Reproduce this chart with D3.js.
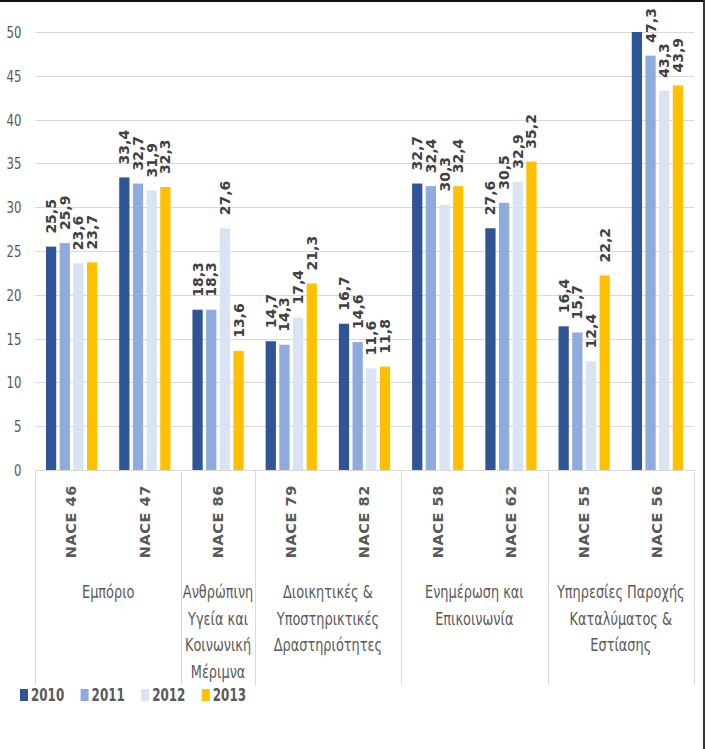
<!DOCTYPE html>
<html>
<head>
<meta charset="utf-8">
<script src="https://cdn.jsdelivr.net/npm/d3@7/dist/d3.min.js"></script>
<style>
  html, body { margin: 0; padding: 0; background: #fff; }
  svg { display: block; }
  .narrow { font-family: "DejaVu Sans Condensed", "DejaVu Sans", sans-serif; }
</style>
</head>
<body>
<svg id="chart" width="705" height="749"></svg>
<script>
const categories = ["NACE 46", "NACE 47", "NACE 86", "NACE 79", "NACE 82", "NACE 58", "NACE 62", "NACE 55", "NACE 56"];
const seriesNames = ["2010", "2011", "2012", "2013"];
const values2010 = [25.5, 33.4, 18.3, 14.7, 16.7, 32.7, 27.6, 16.4, 50];
const values2011 = [25.9, 32.7, 18.3, 14.3, 14.6, 32.4, 30.5, 15.7, 47.3];
const values2012 = [23.6, 31.9, 27.6, 17.4, 11.6, 30.3, 32.9, 12.4, 43.3];
const values2013 = [23.7, 32.3, 13.6, 21.3, 11.8, 32.4, 35.2, 22.2, 43.9];
const groupLabels = [
  ["Εμπόριο"],
  ["Ανθρώπινη", "Υγεία και", "Κοινωνική", "Μέριμνα"],
  ["Διοικητικές &", "Υποστηρικτικές", "Δραστηριότητες"],
  ["Ενημέρωση και", "Επικοινωνία"],
  ["Υπηρεσίες Παροχής", "Καταλύματος &", "Εστίασης"]
];
const groupSizes = [2, 1, 2, 2, 2];
const yTicks = [0, 5, 10, 15, 20, 25, 30, 35, 40, 45, 50];
const colors = ["#2F5597", "#8FAADC", "#DAE3F3", "#FFC000"];

(function () {
const allSeries = [values2010, values2011, values2012, values2013];
const svg = d3.select("#chart");

const pLeft = 35, pRight = 694, pTop = 32, pBottom = 470;
const yMax = 50;

const y = d3.scaleLinear().domain([0, yMax]).range([pBottom, pTop]);
const x0 = d3.scaleBand().domain(categories).range([pLeft, pRight]).paddingInner(0.3).paddingOuter(0.15);
const x1 = d3.scaleBand().domain(seriesNames).range([0, x0.bandwidth()]).paddingInner(0.25);
const step = x0.step();

// frame lines (top & right)
svg.append("line").attr("x1", 0).attr("x2", 705).attr("y1", 1).attr("y2", 1).attr("stroke", "#111").attr("stroke-width", 2);
svg.append("line").attr("x1", 704).attr("x2", 704).attr("y1", 0).attr("y2", 749).attr("stroke", "#333").attr("stroke-width", 2);

// gridlines
svg.append("g").selectAll("line").data(yTicks).join("line")
  .attr("x1", pLeft).attr("x2", pRight)
  .attr("y1", d => Math.round(y(d)) + 0.5).attr("y2", d => Math.round(y(d)) + 0.5)
  .attr("stroke", "#d9d9d9").attr("stroke-width", 1);

// y axis labels
const yAxis = d3.axisLeft(y).tickValues(yTicks).tickSize(0).tickPadding(0).tickFormat(d3.format("d"));
const yg = svg.append("g").attr("transform", `translate(21.5,0)`).call(yAxis);
yg.attr("font-family", null).attr("font-size", null);
yg.select(".domain").remove();
yg.selectAll("text").attr("class", "narrow").attr("font-size", 15).attr("fill", "#595959")
  .attr("x", 0).attr("dy", "0.36em").attr("transform", "scale(0.87,1)");

// bars
const catG = svg.append("g").selectAll("g").data(categories).join("g")
  .attr("transform", d => `translate(${x0(d)},0)`);

catG.selectAll("rect").data((c, i) => seriesNames.map((s, j) => ({ s, j, v: allSeries[j][i] }))).join("rect")
  .attr("x", d => x1(d.s))
  .attr("width", x1.bandwidth())
  .attr("y", d => y(Math.min(d.v, yMax)))
  .attr("height", d => y(0) - y(Math.min(d.v, yMax)))
  .attr("fill", d => colors[d.j]);

// data labels
catG.selectAll("text.val").data((c, i) => seriesNames.map((s, j) => ({ s, j, v: allSeries[j][i] })).filter(d => d.v < yMax))
  .join("text").attr("class", "val")
  .attr("transform", d => `translate(${x1(d.s) + x1.bandwidth() / 2},${y(d.v) - 13}) rotate(-90)`)
  .attr("dy", "0.36em")
  .attr("font-family", "DejaVu Sans, Verdana, sans-serif")
  .attr("font-weight", "bold")
  .attr("font-size", 14)
  .attr("fill", "#404040")
  .text(d => d3.format(".1f")(d.v).replace(".", ","));

// category labels
svg.append("g").selectAll("text").data(categories).join("text")
  .attr("transform", d => `translate(${x0(d) + x0.bandwidth() / 2 - 0.4},${pBottom + 15}) rotate(-90)`)
  .attr("text-anchor", "end")
  .attr("dy", "0.36em")
  .attr("font-family", "DejaVu Sans, Verdana, sans-serif")
  .attr("font-weight", "bold")
  .attr("font-size", 14.5)
  .attr("letter-spacing", 0.6)
  .attr("fill", "#595959")
  .text(d => d);

// group separators and group labels
let startIdx = 0;
const sepBottom = 685;
const bounds = [pLeft];
groupSizes.forEach((n, gi) => {
  const xe = pLeft + (startIdx + n) * step;
  bounds.push(xe);
  const xs = pLeft + startIdx * step;
  const cx = (xs + xe) / 2;
  const t = svg.append("text").attr("class", "narrow")
    .attr("transform", `translate(${cx},0) scale(0.82,1)`)
    .attr("text-anchor", "middle").attr("font-size", 17.5).attr("fill", "#595959");
  groupLabels[gi].forEach((line, li) => {
    t.append("tspan").attr("x", 0).attr("y", 598 + li * 26.7).text(line);
  });
  startIdx += n;
});
svg.append("g").selectAll("line").data(bounds).join("line")
  .attr("x1", d => Math.round(d) + 0.5).attr("x2", d => Math.round(d) + 0.5)
  .attr("y1", pBottom).attr("y2", sepBottom)
  .attr("stroke", "#d9d9d9").attr("stroke-width", 1);

// legend
const lg = svg.append("g").selectAll("g").data(seriesNames).join("g")
  .attr("transform", (d, i) => `translate(${20 + i * 60.6},0)`);
lg.append("rect").attr("x", 0).attr("y", 689).attr("width", 8).attr("height", 12)
  .attr("fill", (d, i) => colors[i]);
lg.append("text").attr("class", "narrow")
  .attr("transform", "translate(11,701) scale(0.78,1)")
  .attr("font-size", 17).attr("font-weight", "bold").attr("fill", "#595959")
  .text(d => d);
})();
</script>
</body>
</html>
